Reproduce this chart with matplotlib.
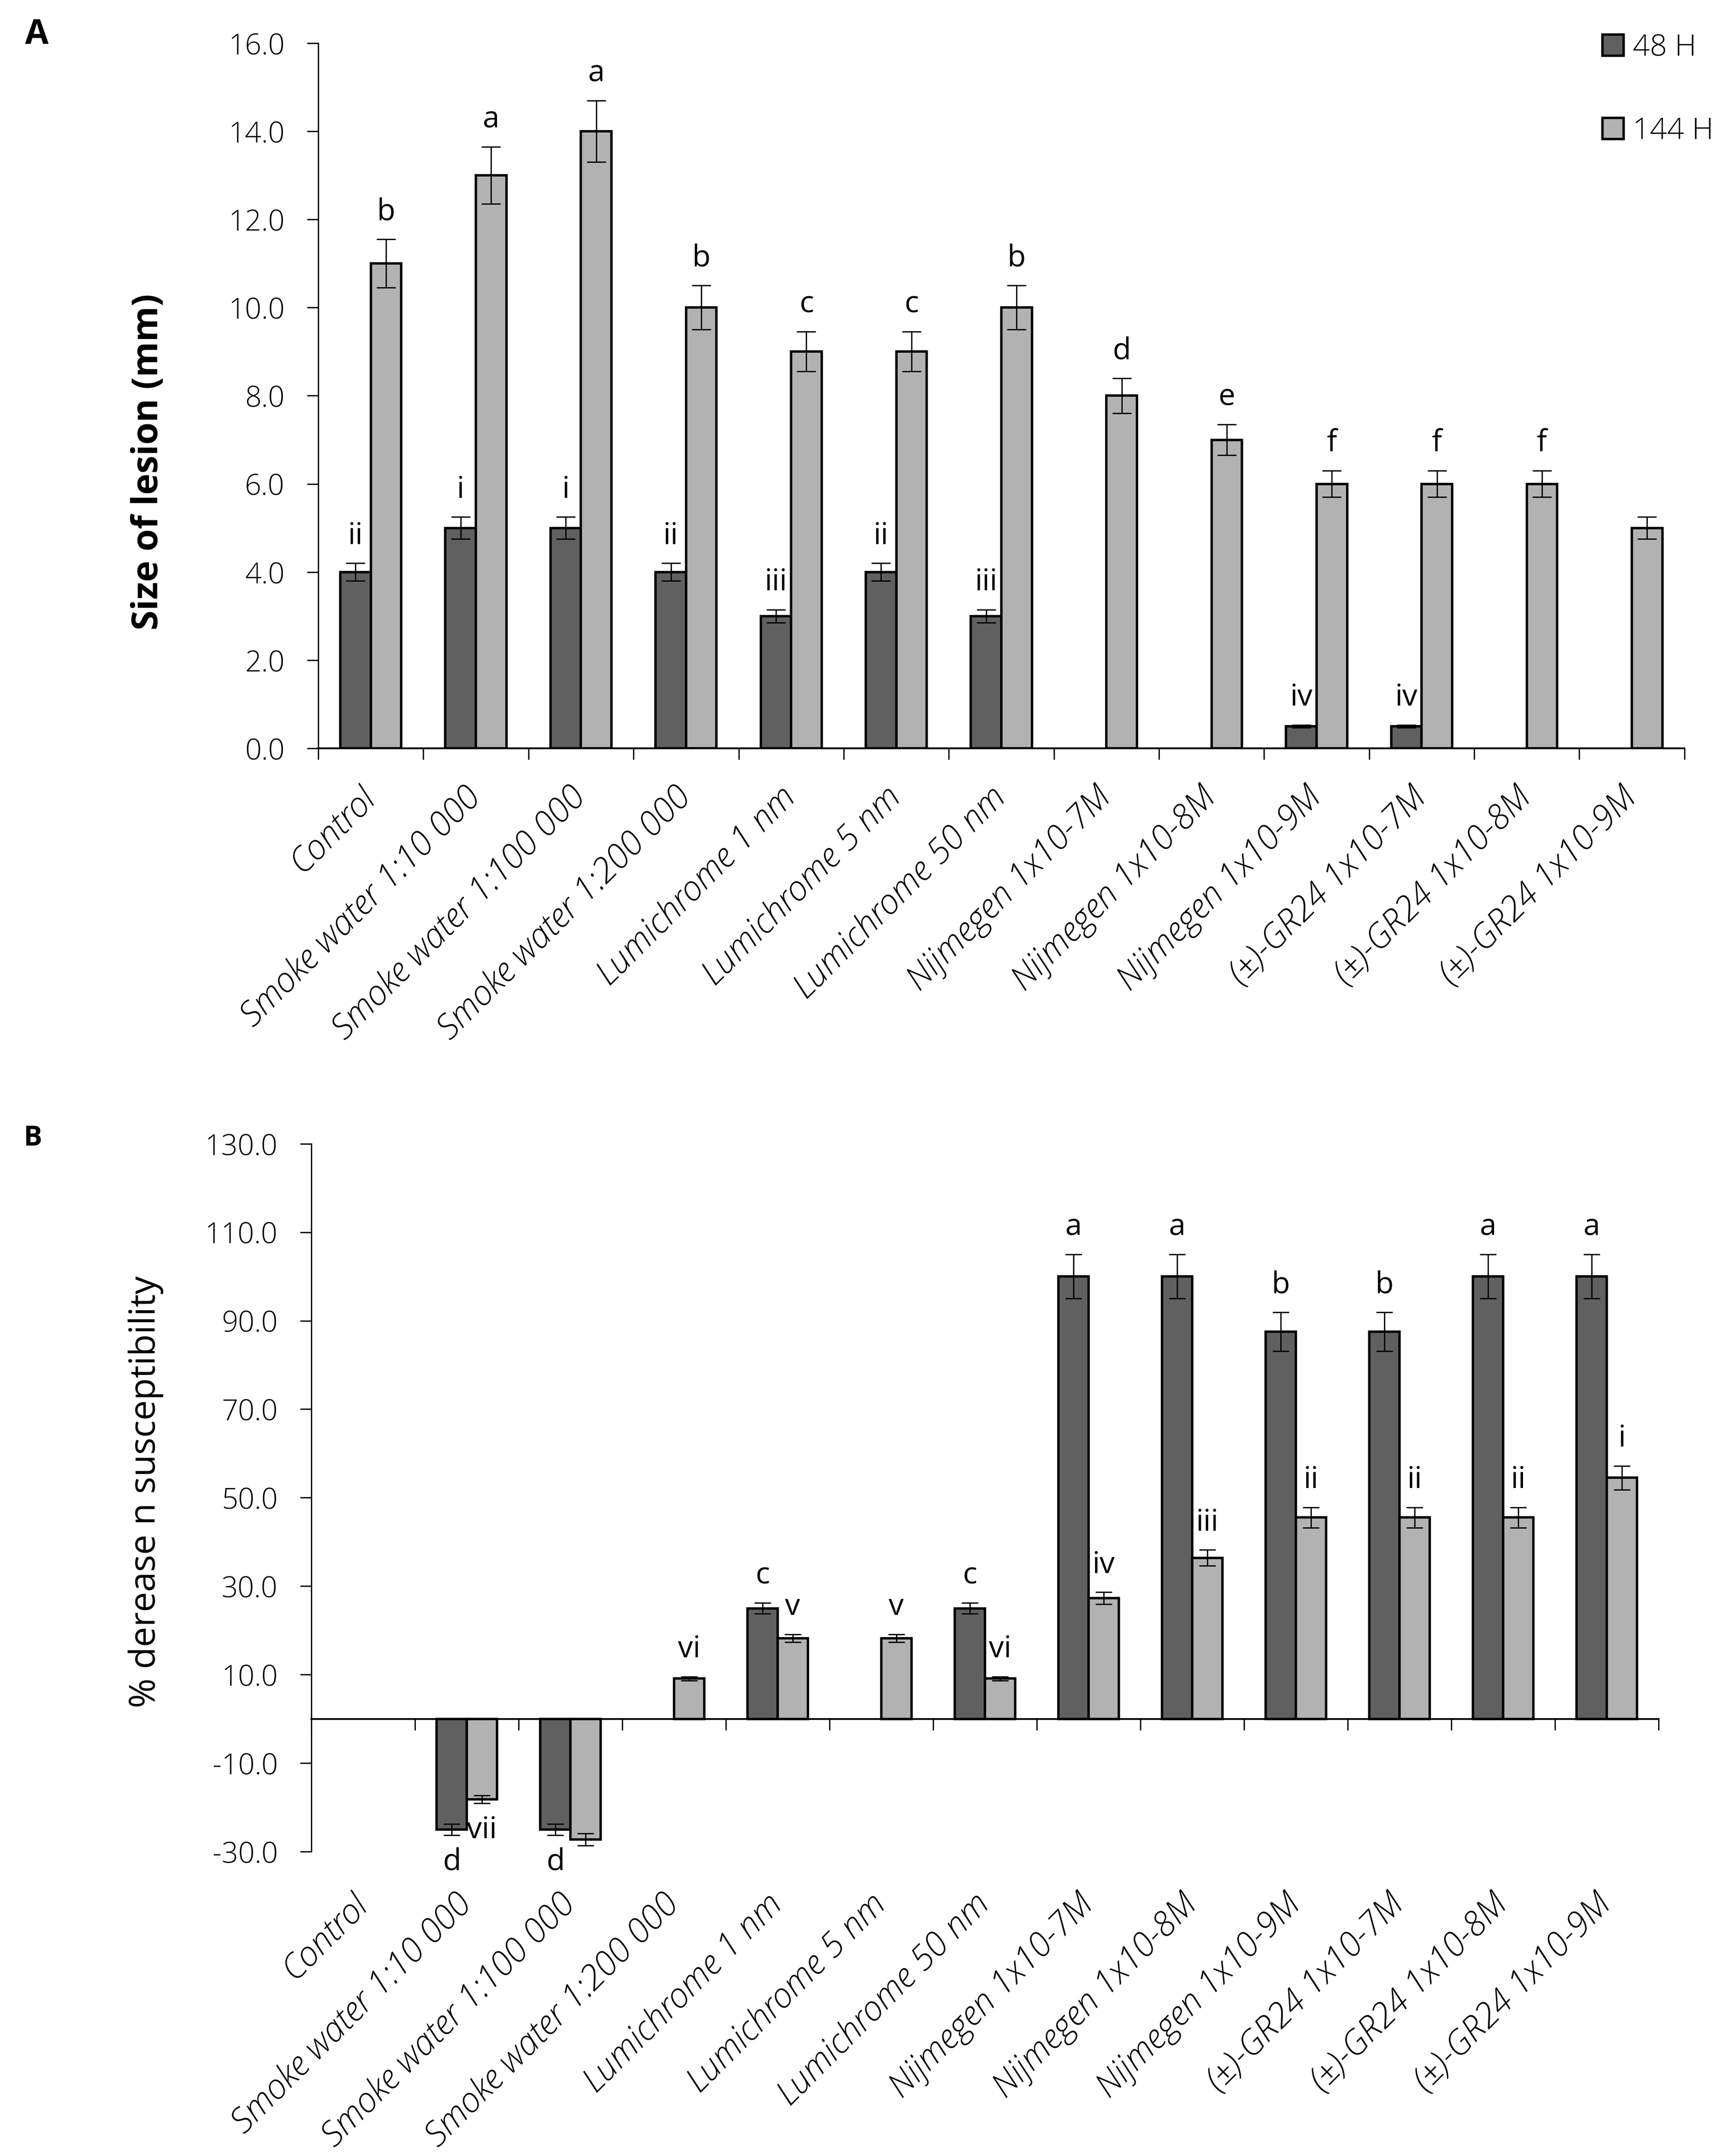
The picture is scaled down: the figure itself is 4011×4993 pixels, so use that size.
import matplotlib
matplotlib.use("Agg")
import matplotlib.pyplot as plt
import numpy as np
from matplotlib.patches import Patch
from matplotlib.ticker import FormatStrFormatter

plt.rcParams['axes.unicode_minus'] = False

traitements = ["Control", "Smoke water 1:10 000", "Smoke water 1:100 000", "Smoke water 1:200 000",
               "Lumichrome 1 nm", "Lumichrome 5 nm", "Lumichrome 50 nm",
               "Nijmegen 1x10-7M", "Nijmegen 1x10-8M", "Nijmegen 1x10-9M",
               "(±)-GR24 1x10-7M", "(±)-GR24 1x10-8M", "(±)-GR24 1x10-9M"]

# A : taille de la lesion (mm)
lesion_48 = [4, 5, 5, 4, 3, 4, 3, 0, 0, 0.5, 0.5, 0, 0]
err_lesion_48 = [0.2, 0.25, 0.25, 0.2, 0.15, 0.2, 0.15, 0, 0, 0.03, 0.03, 0, 0]
lesion_144 = [11, 13, 14, 10, 9, 9, 10, 8, 7, 6, 6, 6, 5]
err_lesion_144 = [0.55, 0.65, 0.7, 0.5, 0.45, 0.45, 0.5, 0.4, 0.35, 0.3, 0.3, 0.3, 0.25]
lettres_A_48 = ["ii", "i", "i", "ii", "iii", "ii", "iii", "", "", "iv", "iv", "", ""]
lettres_A_144 = ["b", "a", "a", "b", "c", "c", "b", "d", "e", "f", "f", "f", ""]

# B : % diminution de la susceptibilite
dimin_48 = [0, -25, -25, 0, 25, 0, 25, 100, 100, 87.5, 87.5, 100, 100]
err_dimin_48 = [0, 1.25, 1.25, 0, 1.25, 0, 1.25, 5, 5, 4.4, 4.4, 5, 5]
dimin_144 = [0, -18.2, -27.3, 9.1, 18.2, 18.2, 9.1, 27.3, 36.4, 45.5, 45.5, 45.5, 54.5]
err_dimin_144 = [0, 0.9, 1.35, 0.45, 0.9, 0.9, 0.45, 1.35, 1.8, 2.3, 2.3, 2.3, 2.7]
lettres_B_48 = ["", "d", "d", "", "c", "", "c", "a", "a", "b", "b", "a", "a"]
lettres_B_144 = ["", "vii", "", "vi", "v", "v", "vi", "iv", "iii", "ii", "ii", "ii", "i"]

fonce = "#606060"
clair = "#b2b2b2"
w = 0.29
lw_bord = 4
lw_axe = 2.2
police = "Open Sans"
lab_font = {"family": police, "style": "italic", "weight": "light", "size": 57}


def barres(ax, v48, e48, v144, e144, l48, l144, cap):
    x = np.arange(len(traitements))
    for dx, v, e, lettres, col in [(-w / 2, v48, e48, l48, fonce), (w / 2, v144, e144, l144, clair)]:
        v = np.array(v, dtype=float)
        e = np.array(e, dtype=float)
        bords = ["black" if vi != 0 else "none" for vi in v]
        ax.bar(x + dx, v, w, color=col, edgecolor=bords, linewidth=lw_bord, zorder=2)
        m = e > 0
        ax.errorbar(x[m] + dx, v[m], yerr=e[m], fmt="none", ecolor="black",
                    elinewidth=lw_axe, capsize=cap, capthick=lw_axe, zorder=3)
        for xi, vi, ei, t in zip(x + dx, v, e, lettres):
            if t == "":
                continue
            if vi >= 0:
                ax.annotate(t, (xi, vi + ei), xytext=(0, 45), textcoords="offset points",
                            ha="center", va="center", family=police, size=50)
            else:
                ax.annotate(t, (xi, vi - ei), xytext=(0, -45), textcoords="offset points",
                            ha="center", va="center", family=police, size=50)
    ax.set_xlim(-0.5, len(traitements) - 0.5)
    ax.spines["top"].set_visible(False)
    ax.spines["right"].set_visible(False)
    ax.spines["left"].set_linewidth(lw_axe)
    ax.tick_params(axis="y", direction="out", length=19, width=lw_axe, pad=37)
    return x


def graduations(ax, ticks):
    ax.set_yticks(ticks)
    ax.yaxis.set_major_formatter(FormatStrFormatter("%.1f"))
    for t in ax.get_yticklabels():
        t.set_fontfamily(police)
        t.set_fontweight("light")
        t.set_fontsize(48)


fig = plt.figure(figsize=(40.12, 49.93), dpi=100)

# ---- panneau A
axA = fig.add_axes([0.1837, 0.6529, 0.9723 - 0.1837, 0.980 - 0.6529])
xA = barres(axA, lesion_48, err_lesion_48, lesion_144, err_lesion_144, lettres_A_48, lettres_A_144, 16)
axA.set_ylim(0, 16)
graduations(axA, np.arange(0, 17, 2))
axA.spines["bottom"].set_linewidth(3)
axA.set_xticks(np.arange(len(traitements) + 1) - 0.5)
axA.set_xticklabels([])
axA.tick_params(axis="x", which="major", direction="out", length=19, width=lw_axe)
axA.set_xticks(xA, minor=True)
axA.set_xticklabels(traitements, minor=True, rotation=45, ha="right", va="center",
                    rotation_mode="anchor", **lab_font)
axA.tick_params(axis="x", which="minor", length=0, pad=74)

# ---- panneau B
axB = fig.add_axes([0.1797, 0.1412, 0.9574 - 0.1797, 0.4695 - 0.1412])
xB = barres(axB, dimin_48, err_dimin_48, dimin_144, err_dimin_144, lettres_B_48, lettres_B_144, 14)
axB.set_ylim(-30, 130)
graduations(axB, np.arange(-30, 131, 20))
axB.spines["bottom"].set_visible(False)
axB.set_xticks(xB)
axB.set_xticklabels(traitements, rotation=45, ha="right", va="center",
                    rotation_mode="anchor", **lab_font)
axB.tick_params(axis="x", length=0, pad=80)
zero = axB.secondary_xaxis(0, transform=axB.transData)
zero.set_xticks(np.arange(len(traitements) + 1) - 0.5)
zero.tick_params(direction="out", length=19, width=lw_axe, labelbottom=False)
zero.spines["bottom"].set_linewidth(3)

# ---- textes
fig.text(58 / 4012, 1 - 102 / 4993, "A", family=police, weight="bold", size=57,
         ha="left", va="baseline")
fig.text(54 / 4012, 1 - 2653 / 4993, "B", family=police, weight="bold", size=46,
         ha="left", va="baseline")
fig.text(344 / 4012, 1 - 1070 / 4993, "Size of lesion (mm)", family=police, weight="bold",
         size=60, rotation=90, ha="center", va="center")
fig.text(338 / 4012, 1 - 3455 / 4993, "% derease n susceptibility", family=police,
         size=60, rotation=90, ha="center", va="center")

poignees = [Patch(facecolor=fonce, edgecolor="black", linewidth=lw_bord, label="48 H"),
            Patch(facecolor=clair, edgecolor="black", linewidth=lw_bord, label="144 H")]
fig.legend(handles=poignees, loc="upper left", bbox_to_anchor=(0.9250, 0.9846), frameon=False,
           prop={"family": police, "weight": "light", "size": 50}, handlelength=0.7,
           handleheight=0.7, handletextpad=0.3, labelspacing=1.8, borderpad=0, borderaxespad=0)

fig.savefig("out.png", dpi=100)
